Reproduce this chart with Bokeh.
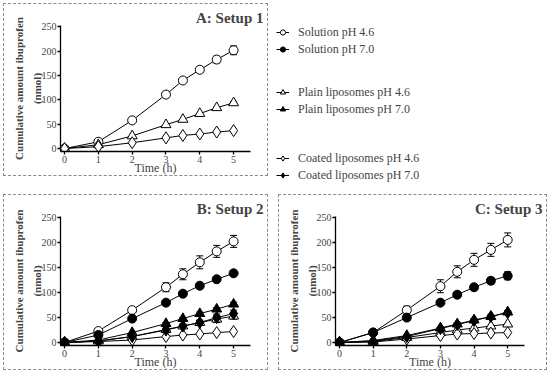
from bokeh.plotting import figure
from bokeh.layouts import row, column
from bokeh.models import ColumnDataSource, Whisker, Legend, LegendItem, TeeHead, Range1d, FixedTicker
from bokeh.embed import file_html
from bokeh.resources import INLINE

FONT = "'Liberation Serif', 'Times New Roman', serif"

time = [0, 1, 2, 3, 3.5, 4, 4.5, 5]

# Setup 1 (pH 4.6 only)
a_sol46 = [0, 14, 58, 111, 140, 162, 183, 202]
a_sol46_sd = [0, 0, 0, 0, 3, 5, 7, 9]
a_pl46 = [0, 8, 26, 49, 60, 72, 84, 94]
a_pl46_sd = [0, 0, 0, 0, 0, 0, 0, 3]
a_co46 = [0, 4, 12, 22, 27, 30, 34, 37]
a_co46_sd = [0, 0, 0, 0, 0, 0, 0, 0]

# Setup 2
b_sol46 = [0, 23, 65, 111, 137, 161, 183, 203]
b_sol46_sd = [0, 0, 4, 9, 11, 13, 12, 12]
b_sol70 = [0, 15, 48, 80, 98, 114, 127, 139]
b_sol70_sd = [0, 0, 2, 2, 2, 3, 3, 3]
b_pl46 = [0, 3, 12, 26, 33, 40, 47, 53]
b_pl46_sd = [0, 0, 0, 3, 4, 5, 7, 6]
b_pl70 = [0, 5, 20, 38, 48, 58, 67, 77]
b_pl70_sd = [0, 0, 0, 2, 2, 3, 3, 4]
b_co46 = [0, 2, 5, 12, 15, 17, 20, 22]
b_co46_sd = [0, 0, 0, 0, 0, 0, 0, 0]
b_co70 = [0, 3, 12, 25, 33, 40, 50, 58]
b_co70_sd = [0, 0, 0, 2, 3, 4, 7, 7]

# Setup 3
c_sol46 = [0, 20, 65, 113, 142, 166, 186, 206]
c_sol46_sd = [0, 0, 8, 13, 12, 13, 13, 14]
c_sol70 = [0, 20, 50, 80, 96, 111, 124, 134]
c_sol70_sd = [0, 0, 5, 3, 3, 3, 6, 8]
c_pl46 = [0, 2, 10, 20, 25, 29, 33, 37]
c_pl46_sd = [0, 0, 0, 0, 0, 0, 0, 0]
c_pl70 = [0, 4, 14, 29, 37, 45, 52, 61]
c_pl70_sd = [0, 0, 0, 2, 3, 3, 3, 3]
c_co46 = [0, 1, 7, 14, 17, 18, 19, 20]
c_co46_sd = [0, 0, 0, 0, 0, 0, 0, 0]
c_co70 = [0, 3, 12, 28, 36, 44, 52, 60]
c_co70_sd = [0, 0, 0, 2, 3, 3, 3, 3]

x_ticks = [0, 1, 2, 3, 4, 5]
y_ticks = [0, 50, 100, 150, 200, 250]

STYLE = {
    "sol46": ("circle", "white", 9),
    "sol70": ("circle", "black", 9),
    "pl46": ("triangle", "white", 10),
    "pl70": ("triangle", "black", 10),
    "co46": ("diamond", "white", 12),
    "co70": ("diamond", "black", 12),
}

LABELS = {
    "sol46": "Solution pH 4.6",
    "sol70": "Solution pH 7.0",
    "pl46": "Plain liposomes pH 4.6",
    "pl70": "Plain liposomes pH 7.0",
    "co46": "Coated liposomes pH 4.6",
    "co70": "Coated liposomes pH 7.0",
}

BORDER = {"border": "1px dashed #8a8a8a", "box-sizing": "border-box"}


def panel(title, series, width, height, right):
    p = figure(width=width, height=height, x_range=Range1d(-0.12, 5.5),
               y_range=Range1d(-6, 253), output_backend="svg",
               toolbar_location=None, min_border_left=56, min_border_right=right,
               min_border_top=21, min_border_bottom=0, styles=BORDER)
    p.outline_line_color = None
    p.grid.visible = False
    p.title.text = title
    p.title.align = "right"
    p.title.text_font = FONT
    p.title.text_font_size = "15px"
    p.title.text_font_style = "bold"
    p.title.offset = -(right - 6)
    p.title.standoff = 0
    for ax in (p.xaxis[0], p.yaxis[0]):
        ax.axis_line_width = 1.3
        ax.major_tick_line_width = 1.3
        ax.major_tick_out = 3
        ax.major_tick_in = 0
        ax.minor_tick_out = 0
        ax.minor_tick_in = 0
        ax.major_label_text_font = FONT
        ax.major_label_text_font_size = "10px"
        ax.major_label_standoff = 1
    p.xaxis.ticker = FixedTicker(ticks=x_ticks)
    p.yaxis.ticker = FixedTicker(ticks=y_ticks)
    p.xaxis.axis_label = "Time (h)"
    p.xaxis.axis_label_text_font = FONT
    p.xaxis.axis_label_text_font_size = "12px"
    p.xaxis.axis_label_text_font_style = "normal"
    p.xaxis.axis_label_standoff = -5
    p.yaxis.axis_label = "Cumulative amount ibuprofen\n(nmol)"
    p.yaxis.axis_label_text_font = FONT
    p.yaxis.axis_label_text_font_size = "11px"
    p.yaxis.axis_label_text_font_style = "bold"
    p.yaxis.axis_label_standoff = -4
    p.yaxis.axis_label_text_line_height = 1.45

    for key, vals, sd in series:
        idx = [i for i in range(len(time)) if sd[i] > 0]
        if idx:
            es = ColumnDataSource(dict(
                x=[time[i] for i in idx],
                lo=[vals[i] - sd[i] for i in idx],
                hi=[vals[i] + sd[i] for i in idx]))
            w = Whisker(source=es, base="x", lower="lo", upper="hi",
                        line_color="black", line_width=1, level="underlay",
                        upper_head=TeeHead(size=7, line_color="black", line_width=1),
                        lower_head=TeeHead(size=7, line_color="black", line_width=1))
            p.add_layout(w)
    for key, vals, sd in series:
        p.line(time, vals, line_color="black", line_width=1)
    for key, vals, sd in series:
        m, fc, s = STYLE[key]
        p.scatter(time, vals, marker=m, size=s, fill_color=fc,
                  line_color="black", line_width=1)
    return p


pA = panel("A: Setup 1", [
    ("sol46", a_sol46, a_sol46_sd),
    ("pl46", a_pl46, a_pl46_sd),
    ("co46", a_co46, a_co46_sd),
], 265, 173, 19)

pB = panel("B: Setup 2", [
    ("sol46", b_sol46, b_sol46_sd),
    ("sol70", b_sol70, b_sol70_sd),
    ("pl46", b_pl46, b_pl46_sd),
    ("pl70", b_pl70, b_pl70_sd),
    ("co46", b_co46, b_co46_sd),
    ("co70", b_co70, b_co70_sd),
], 265, 176, 19)

pC = panel("C: Setup 3", [
    ("sol46", c_sol46, c_sol46_sd),
    ("sol70", c_sol70, c_sol70_sd),
    ("pl46", c_pl46, c_pl46_sd),
    ("pl70", c_pl70, c_pl70_sd),
    ("co46", c_co46, c_co46_sd),
    ("co70", c_co70, c_co70_sd),
], 269, 176, 24)

# Legend panel (placeholder sources hold no visible point)
pL = figure(width=277, height=180, output_backend="svg", toolbar_location=None,
            min_border=0, x_axis_type=None, y_axis_type=None,
            x_range=Range1d(0, 1), y_range=Range1d(0, 1))
pL.outline_line_color = None
pL.grid.visible = False
aligned = True
try:
    pL.frame_align = False
    aligned = False
except Exception:
    aligned = True
placeholder = ColumnDataSource(dict(x=[float("nan")], y=[float("nan")]))


def item(key):
    m, fc, s = STYLE[key]
    rl = pL.line("x", "y", source=placeholder, line_color="black", line_width=1)
    rm = pL.scatter("x", "y", source=placeholder, marker=m, size=max(s - 4, 5),
                    fill_color=fc, line_color="black", line_width=1)
    return LegendItem(label=LABELS[key], renderers=[rl, rm])


if aligned:
    groups = [(["sol46", "sol70"], 93), (["pl46", "pl70"], 33), (["co46", "co70"], 0)]
else:
    groups = [(["sol46", "sol70"], 126), (["pl46", "pl70"], 66), (["co46", "co70"], 0)]
for keys, ypos in groups:
    lg = Legend(items=[item(k) for k in keys], location=(6, ypos),
                border_line_color=None, background_fill_alpha=0, padding=0,
                spacing=1, glyph_width=13, glyph_height=16, label_height=16,
                label_standoff=9, margin=0,
                label_text_font=FONT, label_text_font_size="12px")
    pL.add_layout(lg)

layout = column(row(pA, pL, spacing=2), row(pB, pC, spacing=10), spacing=11,
                margin=(3, 0, 0, 3))

open("out.html", "w").write(file_html(layout, INLINE))
